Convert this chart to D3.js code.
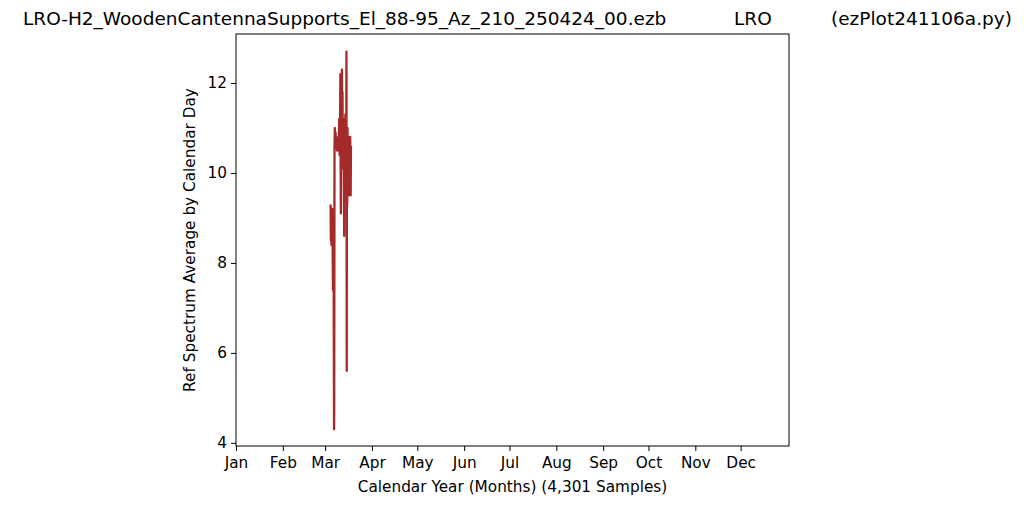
<!DOCTYPE html>
<html><head><meta charset="utf-8">
<script src="https://cdn.jsdelivr.net/npm/d3@7"></script>
<style>body{margin:0;background:#fff}svg{display:block}text{font-family:"DejaVu Sans",sans-serif;fill:#000}</style>
</head><body>
<svg id="c" width="1024" height="506"></svg>
<script>
const monthLabels = ["Jan","Feb","Mar","Apr","May","Jun","Jul","Aug","Sep","Oct","Nov","Dec"];
const monthDays = [0,31,59,90,120,151,181,212,243,273,304,334];
const yTicks = [4,6,8,10,12];
const days = [62.6,62.8,63.0,63.2,63.4,63.6,63.8,64.0,64.2,64.4,64.6,64.9,65.0,65.2,65.4,65.6,65.9,66.2,66.5,66.8,67.2,67.6,68.0,68.3,68.6,68.9,69.1,69.2,69.4,69.6,69.8,70.1,70.3,70.5,70.7,71.0,71.3,71.6,71.8,72.1,72.4,72.7,73.0,73.1,73.2,73.3,73.4,73.6,73.8,74.1,74.4,74.7,75.0,75.3,75.6,75.9,76.1];
const values = [9.3,8.5,9.1,8.4,9.0,8.6,9.2,8.2,7.4,8.9,8.0,4.3,4.7,10.6,11.0,10.8,10.9,10.6,10.8,10.5,10.7,10.5,10.6,11.2,10.4,11.3,12.2,10.6,9.1,11.0,10.3,12.3,10.5,11.8,10.1,11.2,10.2,8.6,11.0,10.0,11.3,9.8,10.9,12.7,9.8,5.6,10.5,9.3,11.0,9.6,10.8,9.5,10.7,9.6,10.8,9.5,10.6];

const svg = d3.select("#c");
const L=236, R=789, T=34, B=446;
const x = d3.scaleLinear().domain([0,366]).range([L,R]);
const y = d3.scaleLinear().domain([3.93,13.09]).range([B,T]);

const data = days.map((d,i)=>[d, values[i]]);
svg.append("path").datum(data)
  .attr("d", d3.line().x(d=>x(d[0])).y(d=>y(d[1])))
  .attr("fill","none").attr("stroke","#a52a2a").attr("stroke-width",2.3).attr("stroke-linejoin","round");

const xa = svg.append("g").attr("transform",`translate(0,${B})`)
  .call(d3.axisBottom(x).tickValues(monthDays).tickFormat((d,i)=>monthLabels[i]).tickSize(5).tickPadding(6));
const ya = svg.append("g").attr("transform",`translate(${L},0)`)
  .call(d3.axisLeft(y).tickValues(yTicks).tickSize(5).tickPadding(4));
[xa,ya].forEach(g=>{
  g.select(".domain").remove();
  g.selectAll("line").attr("stroke","#000").attr("stroke-width",1);
  g.selectAll("text").attr("font-size","15.3px").attr("font-family","DejaVu Sans").attr("fill","#000");
});
svg.append("rect").attr("x",L).attr("y",T).attr("width",R-L).attr("height",B-T)
  .attr("fill","none").attr("stroke","#000").attr("stroke-width",1);

svg.append("text").attr("x",(L+R)/2).attr("y",492).attr("text-anchor","middle").attr("font-size","15.3px")
  .text("Calendar Year (Months) (4,301 Samples)");
svg.append("text").attr("transform",`translate(195,${(T+B)/2}) rotate(-90)`).attr("text-anchor","middle").attr("font-size","15.3px")
  .text("Ref Spectrum Average by Calendar Day");

svg.append("text").attr("x",23).attr("y",25).attr("font-size","18.5px").text("LRO-H2_WoodenCantennaSupports_El_88-95_Az_210_250424_00.ezb");
svg.append("text").attr("x",734).attr("y",25).attr("font-size","18.5px").text("LRO");
svg.append("text").attr("x",831).attr("y",25).attr("font-size","18.5px").text("(ezPlot241106a.py)");
</script>
</body></html>
